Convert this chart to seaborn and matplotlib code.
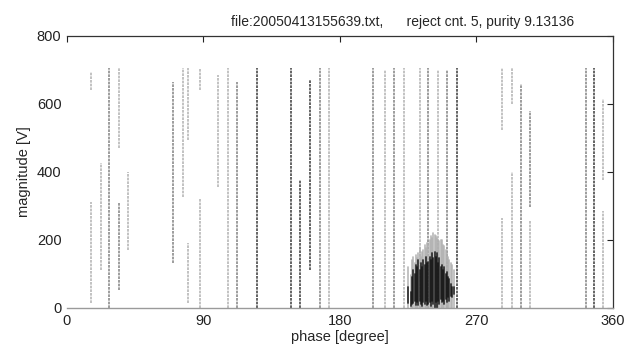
import matplotlib
matplotlib.use("Agg")
import matplotlib.pyplot as plt
import seaborn as sns
import pandas as pd

# vertical streaks: phase [deg], magnitude from/to [V], shade
streak_phase = [15.8, 15.8, 22.2, 27.9, 34.5, 34.5, 40.4, 70.1, 76.3, 80.0, 80.0,
                87.7, 87.7, 99.8, 106.4, 111.9, 125.0, 147.7, 153.6, 160.2, 166.8,
                172.7, 202.0, 209.7, 215.6, 222.2, 232.7, 238.2, 244.8, 250.8, 257.4,
                287.0, 287.0, 293.6, 293.6, 299.3, 305.6, 305.6, 342.0, 347.7,
                353.6, 353.6]
streak_lo = [641, 13, 110, 0, 470, 52, 170, 131, 326, 494, 13,
             0, 640, 355, 0, 0, 0, 0, 0, 110, 0,
             0, 0, 0, 0, 0, 0, 0, 0, 0, 0,
             523, 0, 0, 600, 0, 295, 0, 0, 0,
             375, 0]
streak_hi = [695, 312, 426, 706, 706, 308, 400, 665, 706, 706, 190,
             320, 706, 685, 706, 665, 706, 706, 375, 670, 706,
             706, 706, 700, 706, 706, 706, 706, 700, 700, 706,
             706, 265, 400, 706, 660, 580, 255, 706, 706,
             615, 285]
streak_shade = ["light", "light", "light", "mid", "light", "mid", "light", "mid", "light", "light", "light",
                "light", "light", "light", "light", "mid", "dark", "dark", "dark", "dark", "mid",
                "light", "mid", "light", "mid", "light", "light", "mid", "light", "mid", "dark",
                "light", "light", "light", "light", "mid", "mid", "light", "mid", "dark",
                "light", "light"]

# dense cluster near 240 deg: halo top, dark core from/to
cluster_phase = [225.0, 226.5, 227.5, 228.4, 229.3, 230.2, 231.0, 231.7, 232.5, 233.3,
                 234.2, 235.0, 235.8, 236.6, 237.5, 238.3, 239.1, 240.0, 240.8, 241.6,
                 242.5, 243.3, 243.8, 244.6, 245.4, 246.3, 247.1, 248.0, 248.8, 249.6,
                 250.4, 251.3, 252.1, 253.0, 253.7, 255.0]
cluster_top = [120, 95, 140, 150, 130, 155, 145, 160, 175, 150,
               165, 170, 185, 175, 190, 190, 200, 210, 205, 220,
               215, 210, 205, 200, 195, 200, 200, 185, 180, 170,
               160, 150, 140, 130, 125, 110]
core_lo = [13, 5, 10, 13, 20, 8, 15, 8, 20, 10,
           5, 15, 10, 20, 8, 10, 15, 5, 20, 10,
           0, 15, 0, 20, 10, 25, 15, 20, 10, 25,
           15, 30, 20, 35, 30, 40]
core_hi = [60, 45, 90, 110, 100, 125, 120, 140, 110, 130,
           120, 140, 125, 150, 130, 135, 150, 140, 160, 145,
           165, 150, 160, 130, 145, 120, 125, 110, 120, 100,
           105, 90, 85, 70, 60, 60]

title = "file:20050413155639.txt,      reject cnt. 5, purity 9.13136"


def segments(phase, lo, hi, label):
    rows = []
    for i, (p, a, b, s) in enumerate(zip(phase, lo, hi, label)):
        rows.append({"phase": p, "mag": a, "seg": i, "shade": s})
        rows.append({"phase": p, "mag": b, "seg": i, "shade": s})
    return pd.DataFrame(rows)


sns.set_style("white")
plt.rcParams["font.family"] = ["Liberation Sans", "DejaVu Sans"]

fig = plt.figure(figsize=(6.41, 3.55), dpi=100)
ax = fig.add_axes([0.1045, 0.1338, 0.8518, 0.7648])

# streaks: tight dotted pattern, like the scattered pulse points in the original
df = segments(streak_phase, streak_lo, streak_hi, streak_shade)
sns.lineplot(data=df, x="phase", y="mag", units="seg", estimator=None, sort=False,
             hue="shade", palette={"light": "#b8b8b8", "mid": "#8c8c8c", "dark": "#4a4a4a"},
             linewidth=1.2, linestyle=(0, (1.6, 0.6)), legend=False, ax=ax)

halo = segments(cluster_phase, [0] * len(cluster_phase), cluster_top, ["halo"] * len(cluster_phase))
sns.lineplot(data=halo, x="phase", y="mag", units="seg", estimator=None, sort=False,
             color="#b0b0b0", linewidth=1.2, alpha=0.9, legend=False, ax=ax)

core = segments(cluster_phase, core_lo, core_hi, ["core"] * len(cluster_phase))
sns.lineplot(data=core, x="phase", y="mag", units="seg", estimator=None, sort=False,
             color="#111111", linewidth=1.3, alpha=0.8, legend=False, ax=ax)

ax.set_xlim(0, 360)
ax.set_ylim(0, 800)
ax.set_xticks([0, 90, 180, 270, 360])
ax.set_yticks([0, 200, 400, 600, 800])
ax.tick_params(direction="in", length=4, width=0.8, top=True, right=True,
               labelsize=10.5, colors="#222222", pad=5)
ax.tick_params(axis="y", pad=4)

for side in ["top", "right"]:
    ax.spines[side].set_color("#333333")
    ax.spines[side].set_linewidth(0.9)
ax.spines["left"].set_visible(False)
ax.spines["bottom"].set_color("#9a9a9a")
ax.spines["bottom"].set_linewidth(1.0)

ax.set_title(title, fontsize=10, x=0.615, pad=7)
ax.set_xlabel("phase [degree]", fontsize=10.5, labelpad=1)
ax.set_ylabel("magnitude [V]", fontsize=10.5, labelpad=4)

fig.savefig("out.png", dpi=100)
